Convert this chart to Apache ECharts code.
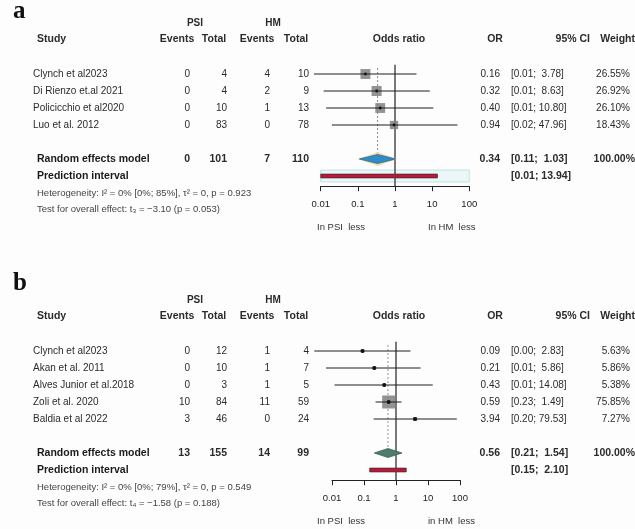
<!DOCTYPE html>
<html><head><meta charset="utf-8">
<script src="https://cdn.jsdelivr.net/npm/echarts@6/dist/echarts.min.js"></script>
<style>html,body{margin:0;padding:0;background:#fdfdfd}#c{width:635px;height:529px}</style>
</head><body><div id="c"></div>
<script>
// ---------------- DATA ----------------
const tickLabels = ['0.01', '0.1', '1', '10', '100'];

// Panel a
const studiesA = ['Clynch et al2023', 'Di Rienzo et.al 2021', 'Policicchio et al2020', 'Luo et al. 2012'];
const psiEventsA = [0, 0, 0, 0];
const psiTotalA = [4, 4, 10, 83];
const hmEventsA = [4, 2, 1, 0];
const hmTotalA = [10, 9, 13, 78];
const orA = [0.16, 0.32, 0.40, 0.94];
const ciLowA = [0.0066, 0.012, 0.014, 0.02];
const ciHighA = [3.78, 8.63, 10.80, 47.96];
const weightA = [26.55, 26.92, 26.10, 18.43];
const summaryA = { psiEvents: 0, psiTotal: 101, hmEvents: 7, hmTotal: 110, or: 0.34, lo: 0.11, hi: 1.03, weight: 100 };
const predA = [0.01, 13.94];
const hetA = 'Heterogeneity: I\u00b2 = 0% [0%; 85%], \u03c4\u00b2 = 0, p = 0.923';
const testA = 'Test for overall effect: t\u2083 = \u22123.10 (p = 0.053)';

// Panel b
const studiesB = ['Clynch et al2023', 'Akan et al. 2011', 'Alves Junior et al.2018', 'Zoli et al. 2020', 'Baldia et al 2022'];
const psiEventsB = [0, 0, 0, 10, 3];
const psiTotalB = [12, 10, 3, 84, 46];
const hmEventsB = [1, 1, 1, 11, 0];
const hmTotalB = [4, 7, 5, 59, 24];
const orB = [0.09, 0.21, 0.43, 0.59, 3.94];
const ciLowB = [0.0028, 0.0065, 0.012, 0.23, 0.20];
const ciHighB = [2.83, 5.86, 14.08, 1.49, 79.53];
const weightB = [5.63, 5.86, 5.38, 75.85, 7.27];
const summaryB = { psiEvents: 13, psiTotal: 155, hmEvents: 14, hmTotal: 99, or: 0.56, lo: 0.21, hi: 1.54, weight: 100 };
const predB = [0.15, 2.10];
const hetB = 'Heterogeneity: I\u00b2 = 0% [0%; 79%], \u03c4\u00b2 = 0, p = 0.549';
const testB = 'Test for overall effect: t\u2084 = \u22121.58 (p = 0.188)';

// ---------------- LAYOUT / STYLE ----------------
const FONT = '"Liberation Sans", Arial, sans-serif';
const panels = [
  { letter: 'a', studies: studiesA, pe: psiEventsA, pt: psiTotalA, he: hmEventsA, ht: hmTotalA,
    or: orA, lo: ciLowA, hi: ciHighA, w: weightA, sum: summaryA, pred: predA, het: hetA, test: testA,
    grid: { left: 320.7, top: 57, width: 148.6, height: 129.2 }, yMin: -1, yMax: 6.6,
    sqMax: 10, dotR: 1.4, diamondFill: '#2f8cc4', diamondStroke: '#1f6f9f', halo: '#f6d29a',
    lineTop: -0.55, letterY: 12, band: true, hmLess: 'In HM  less', dotColor: '#777' },
  { letter: 'b', studies: studiesB, pe: psiEventsB, pt: psiTotalB, he: hmEventsB, ht: hmTotalB,
    or: orB, lo: ciLowB, hi: ciHighB, w: weightB, sum: summaryB, pred: predB, het: hetB, test: testB,
    grid: { left: 332, top: 334, width: 128, height: 146.2 }, yMin: -1, yMax: 7.6,
    sqMax: 13, dotR: 2, diamondFill: '#4f7a6c', diamondStroke: '#35645a', halo: null,
    lineTop: -0.55, letterY: 284, band: false, hmLess: 'in HM  less', dotColor: '#7a8a8a' }
];

const chart = echarts.init(document.getElementById('c'), null, { renderer: 'canvas' });

const grids = [], xAxes = [], yAxes = [], series = [];
panels.forEach((P, i) => {
  const n = P.studies.length;
  const sumRow = n + 1, predRow = n + 2;
  P.sumRow = sumRow; P.predRow = predRow;
  grids.push(P.grid);
  xAxes.push({
    type: 'log', logBase: 10, min: 0.01, max: 100, gridIndex: i,
    axisLine: { show: true, onZero: false, lineStyle: { color: '#222', width: 1 } },
    axisTick: { show: true, length: 5, lineStyle: { color: '#222', width: 1 } },
    axisLabel: { fontSize: 9.5, color: '#222', margin: 13, fontFamily: FONT,
      formatter: v => tickLabels[Math.round(Math.log10(v)) + 2] },
    splitLine: { show: false }, minorTick: { show: false }
  });
  yAxes.push({ type: 'value', gridIndex: i, inverse: true, min: P.yMin, max: P.yMax, show: false });

  if (P.band) {
    series.push({
      type: 'custom', xAxisIndex: i, yAxisIndex: i, silent: true, clip: false, z: 1,
      data: [[0.01, 100, predRow]],
      renderItem: (params, api) => {
        const a = api.coord([api.value(0), api.value(2)]);
        const b = api.coord([api.value(1), api.value(2)]);
        return { type: 'rect', shape: { x: a[0], y: a[1] - 6, width: b[0] - a[0], height: 12 },
          style: { fill: 'rgba(200,236,236,0.35)', stroke: 'rgba(120,200,200,0.55)', lineWidth: 0.8 } };
      }
    });
  }

  series.push({
    type: 'line', xAxisIndex: i, yAxisIndex: i, silent: true, symbol: 'none', z: 3,
    data: [[1, P.lineTop], [1, P.yMax]],
    lineStyle: { color: '#222', width: 1.2 }
  });
  series.push({
    type: 'line', xAxisIndex: i, yAxisIndex: i, silent: true, symbol: 'none', z: 2,
    data: [[P.sum.or, -0.35], [P.sum.or, sumRow - 0.25]],
    lineStyle: { color: P.dotColor, width: 0.9, type: [2, 2] }
  });

  const maxW = Math.max(...P.w);
  series.push({
    type: 'custom', xAxisIndex: i, yAxisIndex: i, silent: true, clip: false, z: 4,
    data: P.studies.map((s, k) => [P.lo[k], P.hi[k], P.or[k], k, P.w[k]]),
    renderItem: (params, api) => {
      const r = api.value(3);
      const p1 = api.coord([api.value(0), r]);
      const p2 = api.coord([api.value(1), r]);
      const c = api.coord([api.value(2), r]);
      const s = P.sqMax * Math.sqrt(api.value(4) / maxW);
      return { type: 'group', children: [
        { type: 'rect', shape: { x: c[0] - s / 2, y: c[1] - s / 2, width: s, height: s }, style: { fill: 'rgba(128,128,128,0.85)' } },
        { type: 'line', shape: { x1: p1[0], y1: p1[1], x2: p2[0], y2: p2[1] }, style: { stroke: '#1e1e1e', lineWidth: 1 } },
        { type: 'circle', shape: { cx: c[0], cy: c[1], r: P.dotR }, style: { fill: '#111' } }
      ] };
    }
  });

  series.push({
    type: 'custom', xAxisIndex: i, yAxisIndex: i, silent: true, clip: false, z: 5,
    data: [[P.sum.lo, P.sum.hi, P.sum.or, sumRow]],
    renderItem: (params, api) => {
      const r = api.value(3);
      const a = api.coord([api.value(0), r]);
      const b = api.coord([api.value(1), r]);
      const c = api.coord([api.value(2), r]);
      const h = 4.5;
      const kids = [];
      if (P.halo) {
        kids.push({ type: 'polygon', shape: { points: [[a[0] - 2, a[1]], [c[0], c[1] - h - 2.5], [b[0] + 2, b[1]], [c[0], c[1] + h + 2.5]] },
          style: { fill: P.halo, opacity: 0.8 } });
      }
      kids.push({ type: 'polygon', shape: { points: [[a[0], a[1]], [c[0], c[1] - h], [b[0], b[1]], [c[0], c[1] + h]] },
        style: { fill: P.diamondFill, stroke: P.diamondStroke, lineWidth: 0.8 } });
      return { type: 'group', children: kids };
    }
  });

  series.push({
    type: 'custom', xAxisIndex: i, yAxisIndex: i, silent: true, clip: false, z: 5,
    data: [[P.pred[0], P.pred[1], predRow]],
    renderItem: (params, api) => {
      const r = api.value(2);
      const a = api.coord([api.value(0), r]);
      const b = api.coord([api.value(1), r]);
      return { type: 'rect', shape: { x: a[0], y: a[1] - 2, width: b[0] - a[0], height: 4 },
        style: { fill: '#b31b38', stroke: '#3a2a2e', lineWidth: 0.6 } };
    }
  });
});

chart.setOption({
  animation: false,
  backgroundColor: '#fdfdfd',
  grid: grids, xAxis: xAxes, yAxis: yAxes, series: series
});

// ---------------- TEXT TABLE ----------------
function T(x, y, s, o) {
  o = o || {};
  return { type: 'text', x: x, y: y, silent: true, z: 10,
    style: { text: s, fill: o.color || '#2b2b2b',
      font: (o.italic ? 'italic ' : '') + (o.bold ? 'bold ' : '') + (o.size || 10) + 'px ' + (o.family || FONT),
      align: o.align || 'left', verticalAlign: 'middle' } };
}
const g = [];
const fmtCI = (lo, hi) => '[' + lo.toFixed(2) + '; ' + (hi < 10 ? ' ' : '') + hi.toFixed(2) + ']';
panels.forEach((P, i) => {
  const Y = r => chart.convertToPixel({ yAxisIndex: i }, r);
  const headY = Y(0) - 35, grpY = headY - 16;
  const axisY = Y(P.yMax);
  g.push(T(13, P.letterY, P.letter, { bold: true, size: 25, family: '"Liberation Serif", "DejaVu Serif", serif', color: '#111' }));
  g.push(T(195, grpY, 'PSI', { bold: true, size: 10, align: 'center' }));
  g.push(T(273, grpY, 'HM', { bold: true, size: 10, align: 'center' }));
  g.push(T(37, headY, 'Study', { bold: true, size: 10.5 }));
  g.push(T(177, headY, 'Events', { bold: true, size: 10.5, align: 'center' }));
  g.push(T(214, headY, 'Total', { bold: true, size: 10.5, align: 'center' }));
  g.push(T(257, headY, 'Events', { bold: true, size: 10.5, align: 'center' }));
  g.push(T(296, headY, 'Total', { bold: true, size: 10.5, align: 'center' }));
  g.push(T(399, headY, 'Odds ratio', { bold: true, size: 10.5, align: 'center' }));
  g.push(T(495, headY, 'OR', { bold: true, size: 10.5, align: 'center' }));
  g.push(T(590, headY, '95% CI', { bold: true, size: 10.5, align: 'right' }));
  g.push(T(635, headY, 'Weight', { bold: true, size: 10.5, align: 'right' }));

  P.studies.forEach((s, k) => {
    const y = Y(k);
    g.push(T(33, y, s, { size: 10 }));
    g.push(T(190, y, String(P.pe[k]), { size: 10, align: 'right' }));
    g.push(T(227, y, String(P.pt[k]), { size: 10, align: 'right' }));
    g.push(T(270, y, String(P.he[k]), { size: 10, align: 'right' }));
    g.push(T(309, y, String(P.ht[k]), { size: 10, align: 'right' }));
    g.push(T(500, y, P.or[k].toFixed(2), { size: 10, align: 'right' }));
    g.push(T(511, y, fmtCI(P.lo[k], P.hi[k]), { size: 10 }));
    g.push(T(630, y, P.w[k].toFixed(2) + '%', { size: 10, align: 'right' }));
  });
  const ys = Y(P.sumRow), yp = Y(P.predRow);
  g.push(T(37, ys, 'Random effects model', { bold: true, size: 10.5, color: '#1a1a1a' }));
  g.push(T(190, ys, String(P.sum.psiEvents), { bold: true, size: 10.5, align: 'right' }));
  g.push(T(227, ys, String(P.sum.psiTotal), { bold: true, size: 10.5, align: 'right' }));
  g.push(T(270, ys, String(P.sum.hmEvents), { bold: true, size: 10.5, align: 'right' }));
  g.push(T(309, ys, String(P.sum.hmTotal), { bold: true, size: 10.5, align: 'right' }));
  g.push(T(500, ys, P.sum.or.toFixed(2), { bold: true, size: 10.5, align: 'right' }));
  g.push(T(511, ys, fmtCI(P.sum.lo, P.sum.hi), { bold: true, size: 10.5 }));
  g.push(T(635, ys, P.sum.weight.toFixed(2) + '%', { bold: true, size: 10.5, align: 'right' }));
  g.push(T(37, yp, 'Prediction interval', { bold: true, size: 10.5, color: '#1a1a1a' }));
  g.push(T(511, yp, fmtCI(P.pred[0], P.pred[1]), { bold: true, size: 10.5 }));
  g.push(T(37, Y(P.predRow + 1), P.het, { size: 9.5, color: '#444' }));
  g.push(T(37, Y(P.predRow + 1.95), P.test, { size: 9.5, color: '#444' }));
  g.push(T(317, axisY + 41, 'In PSI  less', { size: 9.5, color: '#333' }));
  g.push(T(428, axisY + 41, P.hmLess, { size: 9.5, color: '#333' }));
});
chart.setOption({ graphic: { elements: g } });
</script>
</body></html>
